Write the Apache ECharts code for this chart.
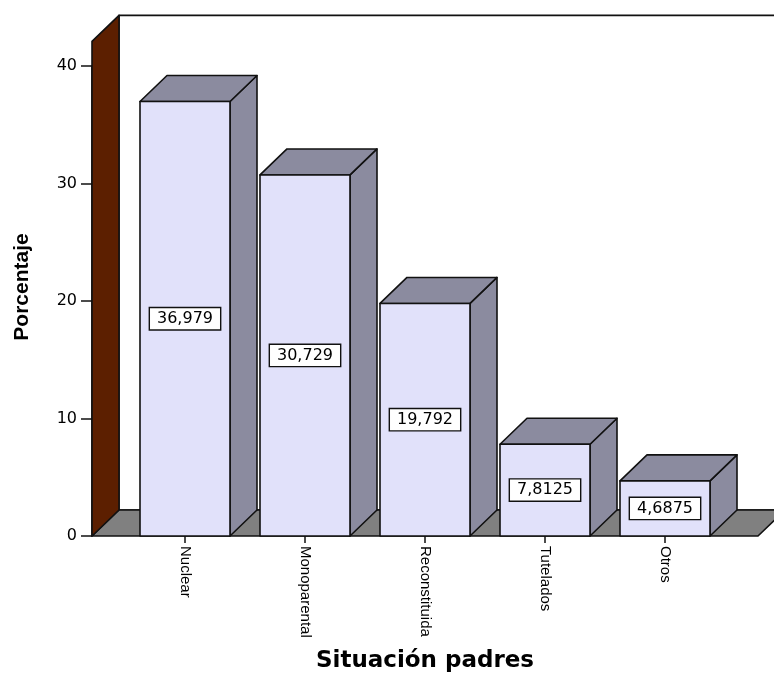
<!DOCTYPE html>
<html>
<head>
<meta charset="utf-8">
<script src="https://cdn.jsdelivr.net/npm/echarts@6/dist/echarts.min.js"></script>
<style>
  html, body { margin: 0; padding: 0; background: #ffffff; }
  #chart { width: 774px; height: 678px; }
</style>
</head>
<body>
<div id="chart"></div>
<script>
// Distribución de la situación de los padres (porcentaje)
const categories = ['Nuclear', 'Monoparental', 'Reconstituida', 'Tutelados', 'Otros'];
const percentages = [36.979, 30.729, 19.792, 7.8125, 4.6875];
const yTickValues = [0, 10, 20, 30, 40];

// Pseudo-3D look: every face is pushed back by this pixel offset
const DEPTH_X = 27;
const DEPTH_Y = -26;
const WALL_TOP = 42.1;        // height reached by the side and back walls (axis units)
const BAR_SHARE = 0.75;       // fraction of a category band used by a bar
const FLOOR_OVERHANG = 0.775; // floor reaches this many bands past the outer category centres

const FRONT_COLOR = '#e1e1fa';
const SHADE_COLOR = '#8b8b9f';
const FLOOR_COLOR = '#808080';
const WALL_COLOR = '#5c1f00';
const EDGE = { stroke: '#111111', lineWidth: 1.6, lineJoin: 'round' };

const chart = echarts.init(document.getElementById('chart'), null, { renderer: 'canvas' });

function poly(points, fill) {
  return { type: 'polygon', shape: { points: points }, style: Object.assign({ fill: fill }, EDGE) };
}

// Walls and floor of the box that holds the bars
function renderScenery(params, api) {
  const band = api.size([1, 0])[0];
  const first = api.coord([0, 0]);
  const last = api.coord([categories.length - 1, 0]);
  const xl = first[0] - FLOOR_OVERHANG * band;
  const xr = last[0] + FLOOR_OVERHANG * band;
  const y0 = first[1];
  const yt = api.coord([0, WALL_TOP])[1];
  return {
    type: 'group',
    children: [
      poly([[xl + DEPTH_X, yt + DEPTH_Y], [xr + DEPTH_X, yt + DEPTH_Y],
            [xr + DEPTH_X, y0 + DEPTH_Y], [xl + DEPTH_X, y0 + DEPTH_Y]], '#ffffff'),
      poly([[xl, y0], [xr, y0], [xr + DEPTH_X, y0 + DEPTH_Y], [xl + DEPTH_X, y0 + DEPTH_Y]], FLOOR_COLOR),
      poly([[xl, y0], [xl, yt], [xl + DEPTH_X, yt + DEPTH_Y], [xl + DEPTH_X, y0 + DEPTH_Y]], WALL_COLOR)
    ]
  };
}

// One prism per category, with its value boxed in the middle of the front face
function renderBar(params, api) {
  const i = api.value(0);
  const v = api.value(1);
  const top = api.coord([i, v]);
  const base = api.coord([i, 0]);
  const mid = api.coord([i, v / 2]);
  const hw = api.size([1, 0])[0] * BAR_SHARE / 2;
  const x0 = top[0] - hw;
  const x1 = top[0] + hw;
  const yT = top[1];
  const yB = base[1];
  return {
    type: 'group',
    children: [
      poly([[x1, yB], [x1, yT], [x1 + DEPTH_X, yT + DEPTH_Y], [x1 + DEPTH_X, yB + DEPTH_Y]], SHADE_COLOR),
      poly([[x0, yT], [x1, yT], [x1 + DEPTH_X, yT + DEPTH_Y], [x0 + DEPTH_X, yT + DEPTH_Y]], SHADE_COLOR),
      { type: 'rect', shape: { x: x0, y: yT, width: x1 - x0, height: yB - yT },
        style: Object.assign({ fill: FRONT_COLOR }, EDGE) },
      { type: 'text', x: top[0], y: mid[1],
        style: {
          text: String(v).replace('.', ','),
          fontFamily: 'DejaVu Sans', fontSize: 16, fill: '#000000',
          align: 'center', verticalAlign: 'middle',
          backgroundColor: '#ffffff', borderColor: '#111111', borderWidth: 1.4,
          padding: [3, 7, 2, 7]
        } }
    ]
  };
}

const option = {
  backgroundColor: '#ffffff',
  animation: false,
  grid: { left: 125, right: 49, top: 66, bottom: 140 },
  xAxis: {
    type: 'category',
    data: categories,
    name: 'Situación padres',
    nameLocation: 'middle',
    nameGap: 114,
    nameTextStyle: { fontFamily: 'DejaVu Sans', fontWeight: 'bold', fontSize: 23, color: '#000000' },
    axisLine: { show: false },
    axisTick: { show: true, alignWithLabel: true, length: 7, lineStyle: { color: '#111111', width: 1.5 } },
    axisLabel: { rotate: -90, margin: 10, fontFamily: 'Liberation Sans', fontSize: 15, color: '#000000' },
    splitLine: { show: false }
  },
  yAxis: {
    type: 'value',
    min: 0,
    max: 40,
    interval: 10,
    offset: 33,
    name: 'Porcentaje',
    nameLocation: 'middle',
    nameGap: 59,
    nameTextStyle: { fontFamily: 'Liberation Sans', fontWeight: 'bold', fontSize: 21, color: '#000000',
                     padding: [0, 0, 0, 28] },
    axisLine: { show: true, lineStyle: { color: '#111111', width: 1.6 } },
    axisTick: { show: true, length: 11, lineStyle: { color: '#111111', width: 1.5 }, customValues: yTickValues },
    axisLabel: { margin: 15, fontFamily: 'DejaVu Sans', fontSize: 16, color: '#000000', customValues: yTickValues },
    splitLine: { show: false }
  },
  series: [
    {
      type: 'custom',
      z: 1,
      clip: false,
      silent: true,
      renderItem: renderScenery,
      data: [[0, 0]],
      encode: { x: 0, y: 1 }
    },
    {
      type: 'custom',
      z: 2,
      clip: false,
      renderItem: renderBar,
      data: percentages.map(function (v, i) { return [i, v]; }),
      encode: { x: 0, y: 1 }
    }
  ]
};

chart.setOption(option);
</script>
</body>
</html>
